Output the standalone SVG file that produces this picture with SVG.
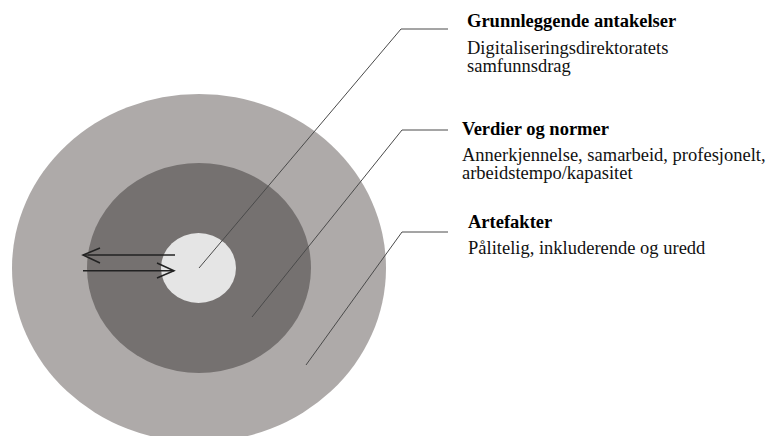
<svg xmlns="http://www.w3.org/2000/svg" width="773" height="436" viewBox="0 0 773 436">
<style>
text{font-family:'Liberation Serif','Times New Roman','DejaVu Serif',serif;font-size:18.5px}
.h{font-weight:bold;fill:#000}
.t{fill:#111}
.ld{fill:none;stroke:#4a4a4a;stroke-width:1}
.ar{fill:none;stroke:#222;stroke-width:1.5}
</style>
<rect width="773" height="436" fill="#fff"/>
<g id="artefakter-ring"><ellipse cx="199" cy="268" rx="187" ry="174" fill="#aeaaa9"/></g>
<g id="verdier-ring"><ellipse cx="199" cy="268" rx="112" ry="105" fill="#757170"/></g>
<g id="grunn-core"><ellipse cx="198.5" cy="268" rx="37.5" ry="35" fill="#e5e5e5"/></g>
<g id="connectors">
<polyline class="ld" points="199,268 401,29 448,29"/>
<polyline class="ld" points="252,317 402,130 448,130"/>
<polyline class="ld" points="306,365 402,232 448,232"/>
<line class="ar" x1="83" y1="255" x2="175" y2="255"/>
<polyline class="ar" points="100,248 83,255 100,263"/>
<line class="ar" x1="83" y1="270.7" x2="174" y2="270.7"/>
<polyline class="ar" points="157,263 174,270.7 157,278"/>
</g>
<g id="label-grunn">
<text class="h" x="467" y="27">Grunnleggende antakelser</text>
<text class="t" x="467" y="54">Digitaliseringsdirektoratets</text>
<text class="t" x="467" y="72">samfunnsdrag</text>
</g>
<g id="label-verdier">
<text class="h" x="462" y="135">Verdier og normer</text>
<text class="t" x="462" y="160.5">Annerkjennelse, samarbeid, profesjonelt,</text>
<text class="t" x="462" y="178.5">arbeidstempo/kapasitet</text>
</g>
<g id="label-artefakter">
<text class="h" x="468" y="228">Artefakter</text>
<text class="t" x="468" y="254">Pålitelig, inkluderende og uredd</text>
</g>
</svg>
